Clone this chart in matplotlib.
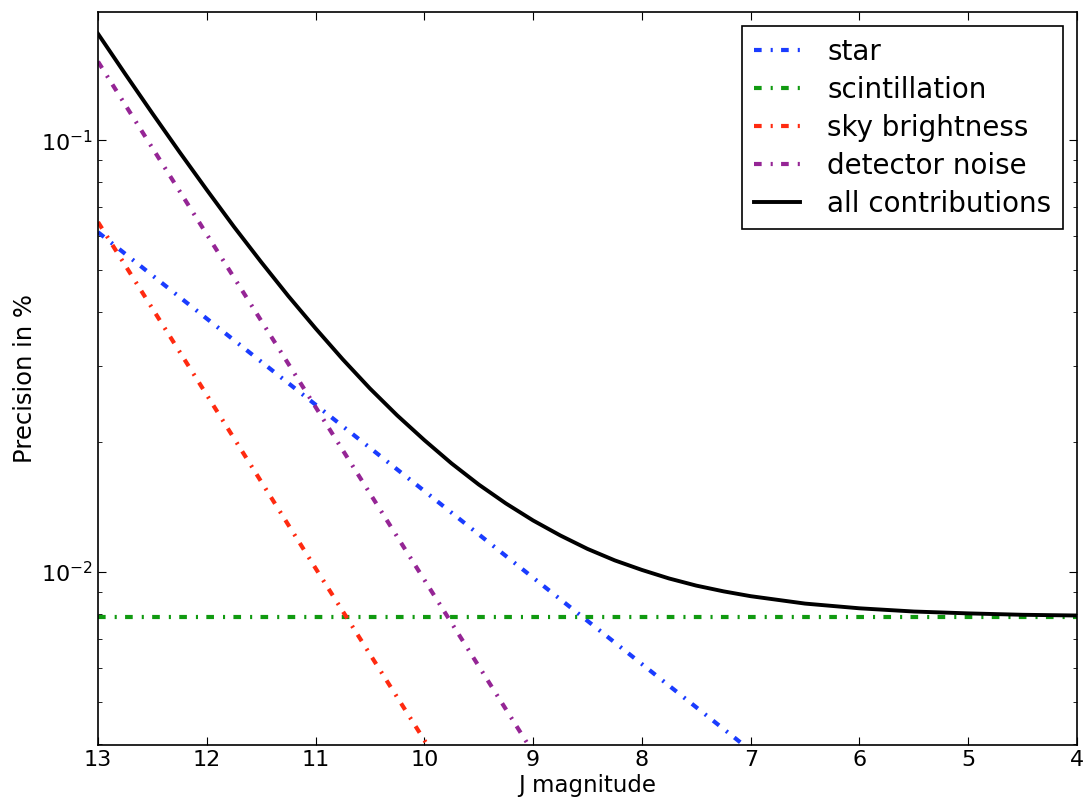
import numpy as np
import matplotlib
matplotlib.use("Agg")
import matplotlib.pyplot as plt

# J magnitude sample points for the component lines
mag = [13, 12, 11, 10, 9, 8, 7, 6, 5, 4]

# noise contributions in %
star = [0.0612, 0.0386, 0.0244, 0.0154, 0.0097, 0.00612, 0.00386, 0.00244, 0.00154, 0.00097]
scint = [0.00787] * len(mag)
sky = [0.0646, 0.0257, 0.0102, 0.00408, 0.00162, 0.000645, 0.000257, 0.000102,
       0.0000408, 0.0000162]
detector = [0.152, 0.0605, 0.0241, 0.00959, 0.00382, 0.00152, 0.000605, 0.000241,
            0.0000959, 0.0000382]

# total curve, finer sampling
mag_total = [13, 12.75, 12.5, 12.25, 12, 11.75, 11.5, 11.25, 11, 10.75, 10.5, 10.25,
             10, 9.75, 9.5, 9.25, 9, 8.75, 8.5, 8.25, 8, 7.75, 7.5, 7.25, 7, 6.5, 6,
             5.5, 5, 4.5, 4]
total = [0.1763, 0.1423, 0.1153, 0.0938, 0.0767, 0.0630, 0.0522, 0.04353, 0.03665,
         0.03107, 0.0266, 0.02305, 0.0202, 0.01784, 0.01594, 0.01441, 0.01316,
         0.01215, 0.01131, 0.01064, 0.01011, 0.00966, 0.0093, 0.00902, 0.00879,
         0.00845, 0.00824, 0.0081, 0.00802, 0.00796, 0.00793]

plt.rcParams['xtick.direction'] = 'in'
plt.rcParams['ytick.direction'] = 'in'
plt.rcParams['xtick.top'] = True
plt.rcParams['ytick.right'] = True
plt.rcParams['xtick.major.size'] = 6
plt.rcParams['ytick.major.size'] = 6
plt.rcParams['ytick.minor.size'] = 3
plt.rcParams['lines.scale_dashes'] = False
plt.rcParams['mathtext.fontset'] = 'dejavusans'

dashdot = (0, (5.5, 6.5, 1.5, 6))

fig = plt.figure(figsize=(10.83, 8.0), dpi=100)
ax = fig.add_axes([0.0905, 0.069, 0.904, 0.916])

ax.plot(mag, star, color='#1a3cff', lw=3, ls=dashdot, label='star')
ax.plot(mag, scint, color='#109a10', lw=3, ls=dashdot, label='scintillation')
ax.plot(mag, sky, color='#ff2a10', lw=3, ls=dashdot, label='sky brightness')
ax.plot(mag, detector, color='#952595', lw=3, ls=dashdot, label='detector noise')
ax.plot(mag_total, total, color='black', lw=2.8, label='all contributions')

ax.set_yscale('log')
ax.set_xlim(13, 4)
ax.set_ylim(0.00398, 0.198)
ax.set_xticks(np.arange(13, 3, -1))
ax.tick_params(labelsize=16)
for sp in ax.spines.values():
    sp.set_linewidth(1.2)

ax.set_xlabel('J magnitude', fontsize=16.5, labelpad=3)
ax.set_ylabel('Precision in %', fontsize=17.5, labelpad=3)

leg = ax.legend(loc='upper right', fontsize=20, fancybox=False, framealpha=1,
                edgecolor='black', handlelength=1.65, borderaxespad=0.5,
                labelspacing=0.36, handletextpad=1.0, borderpad=0.42)
leg.get_frame().set_linewidth(1.2)

fig.savefig('out.png', dpi=100)
